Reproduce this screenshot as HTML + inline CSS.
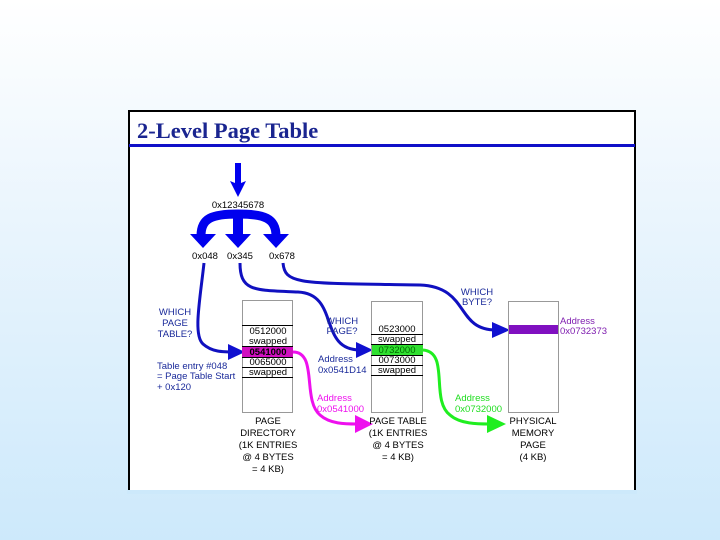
<!DOCTYPE html>
<html><head><meta charset="utf-8"><style>
html,body{margin:0;padding:0}
body{width:720px;height:540px;background:linear-gradient(#ffffff 0%,#eaf5fd 40%,#cde9fb 100%);position:relative;overflow:hidden}
svg{position:absolute;left:0;top:0}
text{font-family:"Liberation Sans",sans-serif;font-size:9.5px}
</style></head><body>
<svg width="720" height="540" viewBox="0 0 720 540">
<rect x="129" y="111" width="506" height="380" fill="#fff" stroke="#000" stroke-width="2"/>
<rect x="127" y="490" width="510" height="4" fill="#cde9fb"/>
<text x="137" y="138" style="font-family:'Liberation Serif',serif;font-size:22.5px;font-weight:bold" fill="#1a2590">2-Level Page Table</text>
<rect x="129" y="144" width="506" height="3" fill="#1010c8"/>

<path d="M235,163 L241,163 L241,183 L246,181 L238,197 L230,181 L235,183 Z" fill="#0000ee"/>
<text x="238" y="208" text-anchor="middle" font-size="9">0x12345678</text>
<path d="M201,236 C201,218 212,214 238,214 C264,214 276,218 276,236" fill="none" stroke="#0000ee" stroke-width="9"/>
<rect x="233" y="214" width="10" height="22" fill="#0000ee"/>
<path d="M190,234 L216,234 L203,248 Z" fill="#0000ee"/>
<path d="M225,234 L251,234 L238,248 Z" fill="#0000ee"/>
<path d="M263,234 L289,234 L276,248 Z" fill="#0000ee"/>
<text x="205" y="259" text-anchor="middle">0x048</text>
<text x="240" y="259" text-anchor="middle">0x345</text>
<text x="282" y="259" text-anchor="middle">0x678</text>

<path d="M204,263 C200,300 193,335 203,344 C212,352 222,352 236,352" fill="none" stroke="#1010c0" stroke-width="3"/>
<path d="M228,344 L245,352 L228,360 Z" fill="#1010d0"/>
<path d="M240,263 C240,292 255,290 298,292 C340,294 318,350 360,350" fill="none" stroke="#1010c0" stroke-width="3"/>
<path d="M356,342 L373,350 L356,358 Z" fill="#1010d0"/>
<path d="M283,263 C285,285 300,283 420,285 C470,287 455,330 496,330" fill="none" stroke="#1010c0" stroke-width="3"/>
<path d="M492,322 L510,330 L492,338 Z" fill="#1010d0"/>
<path d="M293,352 C318,352 302,400 320,415 C330,424 345,424 358,424" fill="none" stroke="#ee10ee" stroke-width="3"/>
<path d="M355,415 L373,424 L355,433 Z" fill="#ee10ee"/>
<path d="M423,350 C450,352 430,400 450,415 C460,424 478,424 490,424" fill="none" stroke="#20ee20" stroke-width="3"/>
<path d="M487,415 L506,424 L487,433 Z" fill="#20ee20"/>

<rect x="242.5" y="300.5" width="50" height="112" fill="none" stroke="#999"/>
<rect x="242" y="347" width="51" height="10" fill="#d010c0"/>
<g stroke="#000" stroke-width="1">
<line x1="242" y1="325.5" x2="293" y2="325.5"/><line x1="242" y1="346.5" x2="293" y2="346.5"/><line x1="242" y1="357.5" x2="293" y2="357.5"/><line x1="242" y1="367.5" x2="293" y2="367.5"/><line x1="242" y1="377.5" x2="293" y2="377.5"/>
</g>
<g text-anchor="middle">
<text x="268" y="334">0512000</text><text x="268" y="344">swapped</text><text x="268" y="355" fill="#000" font-weight="bold">0541000</text><text x="268" y="365">0065000</text><text x="268" y="375">swapped</text>
</g>
<rect x="371.5" y="301.5" width="51" height="111" fill="none" stroke="#999"/>
<rect x="372" y="345" width="51" height="10" fill="#30e030"/>
<g stroke="#000">
<line x1="371" y1="334.5" x2="423" y2="334.5"/><line x1="371" y1="344.5" x2="423" y2="344.5"/><line x1="371" y1="355.5" x2="423" y2="355.5"/><line x1="371" y1="365.5" x2="423" y2="365.5"/><line x1="371" y1="375.5" x2="423" y2="375.5"/>
</g>
<g text-anchor="middle">
<text x="397" y="332">0523000</text><text x="397" y="342">swapped</text><text x="397" y="353" fill="#006600">0732000</text><text x="397" y="363">0073000</text><text x="397" y="373">swapped</text>
</g>
<rect x="508.5" y="301.5" width="50" height="111" fill="none" stroke="#999"/>
<rect x="509" y="325" width="49" height="9" fill="#8010c0"/>

<g fill="#1a2a9a" text-anchor="middle">
<text x="175" y="315">WHICH</text><text x="175" y="326">PAGE</text><text x="175" y="337">TABLE?</text>
<text x="342" y="324">WHICH</text><text x="342" y="334">PAGE?</text>
<text x="477" y="295">WHICH</text><text x="477" y="305">BYTE?</text>
</g>
<g fill="#1a2a9a">
<text x="157" y="369">Table entry #048</text><text x="157" y="379">= Page Table Start</text><text x="157" y="390">+ 0x120</text>
<text x="318" y="362">Address</text><text x="318" y="373">0x0541D14</text>
</g>
<text x="317" y="401" fill="#ee10ee">Address</text><text x="317" y="412" fill="#ee10ee">0x0541000</text>
<text x="455" y="401" fill="#20dd20">Address</text><text x="455" y="412" fill="#20dd20">0x0732000</text>
<text x="560" y="324" fill="#8020b0">Address</text><text x="560" y="334" fill="#8020b0">0x0732373</text>

<g text-anchor="middle">
<text x="268" y="424">PAGE</text><text x="268" y="436">DIRECTORY</text><text x="268" y="448">(1K ENTRIES</text><text x="268" y="460">@ 4 BYTES</text><text x="268" y="472">= 4 KB)</text>
<text x="398" y="424">PAGE TABLE</text><text x="398" y="436">(1K ENTRIES</text><text x="398" y="448">@ 4 BYTES</text><text x="398" y="460">= 4 KB)</text>
<text x="533" y="424">PHYSICAL</text><text x="533" y="436">MEMORY</text><text x="533" y="448">PAGE</text><text x="533" y="460">(4 KB)</text>
</g>
</svg>
</body></html>
